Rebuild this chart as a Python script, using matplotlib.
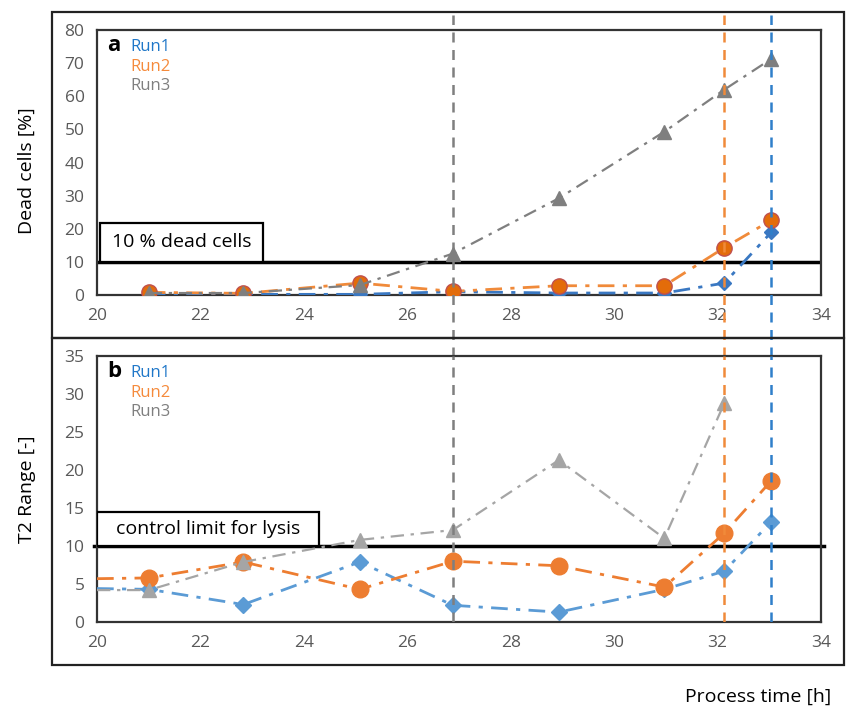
import matplotlib.pyplot as plt
from matplotlib.patches import Rectangle

plt.rcParams['font.family'] = ['Open Sans', 'DejaVu Sans']

# process time [h]
t = [21.0, 22.83, 25.08, 26.88, 28.93, 30.97, 32.13, 33.04]

# a: dead cells [%]
dead_run1 = [0.3, 0.2, 0.2, 1.0, 0.6, 0.6, 3.6, 19.0]
dead_run2 = [0.8, 0.5, 3.6, 1.1, 2.8, 2.8, 14.3, 22.6]
dead_run3 = [0.6, 0.6, 3.0, 12.5, 29.2, 49.3, 62.0, 71.3]

# b: T2 range [-], first value at 20 h (line only)
t2_t = [20.0] + t
t2_run1 = [4.4, 4.3, 2.3, 7.9, 2.2, 1.3, 4.3, 6.7, 13.2]
t2_run2 = [5.7, 5.8, 7.9, 4.3, 8.0, 7.4, 4.6, 11.7, 18.6]
t2_t3 = [20.0] + t[:-1]
t2_run3 = [4.2, 4.2, 7.9, 10.8, 12.1, 21.3, 11.0, 28.8]

# end of each run
end_run1, end_run2, end_run3 = 33.04, 32.13, 26.88

blue, orange, grey = '#2F7FCA', '#F08A3A', '#7F7F7F'
dashdot = (0, (6, 3, 1.5, 3))

fig = plt.figure(figsize=(8.46, 7.09), dpi=100)

# outer frames
for y0, h in [(0.5232, 0.4600), (0.0621, 0.4611)]:
    fig.patches.append(Rectangle((0.0615, y0), 0.936, h, transform=fig.transFigure,
                                 fill=False, edgecolor='#222222', lw=1.6))

ax1 = fig.add_axes([0.1147, 0.5839, 0.8558, 0.3738])
ax2 = fig.add_axes([0.1147, 0.1227, 0.8558, 0.3752])

for ax in (ax1, ax2):
    ax.set_xlim(20, 34)
    ax.set_xticks(range(20, 35, 2))
    ax.tick_params(length=0, labelsize=12.5, labelcolor='#595959', pad=9)
    for s in ax.spines.values():
        s.set_color('#333333')
        s.set_linewidth(1.6)

ax1.set_ylim(0, 80)
ax1.set_yticks(range(0, 81, 10))
ax2.set_ylim(0, 35)
ax2.set_yticks(range(0, 36, 5))

# a
ax1.plot(t, dead_run1, ls=dashdot, color='#3A78C2', lw=2, marker='D', ms=7, mec='#3A78C2', zorder=3)
ax1.plot(t, dead_run2, ls=dashdot, color='#F08A3A', lw=2, marker='o', ms=11, mfc='#E36C0A', mec='#C0504D', zorder=4)
ax1.plot(t, dead_run3, ls=dashdot, color='#7F7F7F', lw=1.6, marker='^', ms=10, zorder=5)
ax1.axhline(10, color='black', lw=2.5, zorder=2)

# b
ax2.plot(t2_t, t2_run1, ls=dashdot, color='#5B9BD5', lw=2, marker='D', ms=8, markevery=slice(1, None), zorder=3)
ax2.plot(t2_t, t2_run2, ls=dashdot, color='#ED7D31', lw=2, marker='o', ms=12, markevery=slice(1, None), zorder=4)
ax2.plot(t2_t3, t2_run3, ls=dashdot, color='#A5A5A5', lw=1.6, marker='^', ms=10, markevery=slice(1, None), zorder=5)
ax2.plot([19.95, 34.05], [10, 10], color='black', lw=2.5, clip_on=False, zorder=2)

# end-of-run markers, spanning both panels
for x, c in [(end_run3, grey), (end_run2, orange), (end_run1, blue)]:
    ax1.axvline(x, ymin=-0.234, ymax=1.057, color=c, lw=1.8, ls=(0, (4, 3)), clip_on=False, zorder=6)
    ax2.axvline(x, ymin=0, ymax=1, color=c, lw=1.8, ls=(0, (4, 3)), zorder=6)

# limit labels
ax1.add_patch(Rectangle((20.06, 10), 3.14, 11.8, fc='white', ec='black', lw=1.6, zorder=7))
ax1.text(20.06 + 3.14 / 2, 15.9, '10 % dead cells', fontsize=14, va='center', ha='center', zorder=8)
ax2.add_patch(Rectangle((20.0, 10), 4.3, 4.5, fc='white', ec='black', lw=1.6, zorder=7))
ax2.text(20.0 + 4.3 / 2, 12.25, 'control limit for lysis', fontsize=14, va='center', ha='center', zorder=8)

# panel letters and run names
for ax in (ax1, ax2):
    ax.text(0.014, 0.94, ax is ax1 and 'a' or 'b', transform=ax.transAxes, fontsize=16,
            fontweight='bold', va='center')
    ax.text(0.046, 0.935, 'Run1', transform=ax.transAxes, fontsize=12, color='#1F77C8', va='center')
    ax.text(0.046, 0.862, 'Run2', transform=ax.transAxes, fontsize=12, color='#F58A3B', va='center')
    ax.text(0.046, 0.789, 'Run3', transform=ax.transAxes, fontsize=12, color='#7F7F7F', va='center')

fig.text(0.032, 0.76, 'Dead cells [%]', rotation=90, fontsize=14, va='center', ha='center')
fig.text(0.032, 0.31, 'T2 Range [-]', rotation=90, fontsize=14, va='center', ha='center')
fig.text(0.983, 0.017, 'Process time [h]', fontsize=14, ha='right', va='center')

fig.savefig('out.png', dpi=100)
